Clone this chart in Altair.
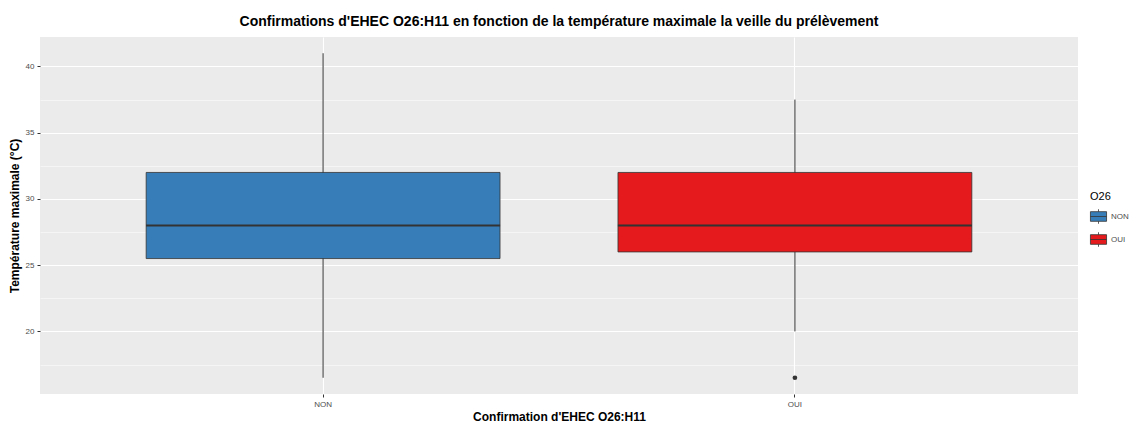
import altair as alt
import pandas as pd

groups = ["NON", "OUI"]
lower = [16.5, 20.0]
q1 = [25.5, 26.0]
median = [28.0, 28.0]
q3 = [32.0, 32.0]
upper = [41.0, 37.5]
out_groups = ["OUI"]
out_values = [16.5]
y_ticks = [17.5, 20, 22.5, 25, 27.5, 30, 32.5, 35, 37.5, 40]
colors = ["#377EB8", "#E41A1C"]

df = pd.DataFrame({"group": groups, "lower": lower, "q1": q1, "median": median,
                   "q3": q3, "upper": upper})
df_out = pd.DataFrame({"group": out_groups, "value": out_values})

lo = min(lower + out_values)
hi = max(upper)
pad = (hi - lo) * 0.05
ydom = [lo - pad, hi + pad]

FONT = "Liberation Sans"

xenc = alt.X("group:N", title="Confirmation d'EHEC O26:H11",
             scale=alt.Scale(paddingInner=0.25, paddingOuter=0.225),
             axis=alt.Axis(labelAngle=0, domain=False, grid=True, gridColor="white",
                           gridWidth=1.1, bandPosition=0.5, tickColor="#333333",
                           tickSize=3, labelColor="#4D4D4D", labelFontSize=8,
                           labelFont=FONT, titleFont=FONT, titleFontSize=12,
                           titleFontWeight="bold", titleColor="black", titlePadding=3,
                           labelPadding=3))
yscale = alt.Scale(domain=ydom, nice=False, zero=False)

def yenc(field):
    return alt.Y(field, type="quantitative", scale=yscale,
                 title="Température maximale (°C)",
                 axis=alt.Axis(values=y_ticks, domain=False, grid=True, gridColor="white",
                               gridWidth={"condition": {"test": "datum.value % 5 === 0", "value": 1.1}, "value": 0.5},
                               tickColor={"condition": {"test": "datum.value % 5 === 0", "value": "#333333"}, "value": "transparent"},
                               labelExpr="datum.value % 5 === 0 ? datum.label : ''",
                               tickSize=3, labelColor="#4D4D4D", labelFontSize=8,
                               labelFont=FONT, titleFont=FONT, titleFontSize=12,
                               titleFontWeight="bold", titleColor="black", titlePadding=4,
                               labelPadding=3))

base = alt.Chart(df)

whiskers = base.mark_rule(color="#333333", strokeWidth=1).encode(
    x=xenc, y=yenc("lower"), y2="upper")

box = base.mark_bar(stroke="#333333", strokeWidth=0.8, opacity=1).encode(
    x=xenc, y=yenc("q1"), y2="q3",
    color=alt.Color("group:N", scale=alt.Scale(domain=groups, range=colors),
                    legend=alt.Legend(title="O26", orient="none", legendX=1050, legendY=154,
                                      titleFont=FONT, titleFontSize=11, titleFontWeight="normal",
                                      labelFont=FONT, labelFontSize=8, labelColor="#4D4D4D",
                                      symbolType="M-1,-0.6H1V0.6H-1ZM-1,0H1M0,-0.6V-0.9M0,0.6V0.9",
                                      symbolSize=260, symbolStrokeColor="#333333",
                                      symbolStrokeWidth=0.8, symbolOpacity=1,
                                      rowPadding=4, titlePadding=6, labelOffset=4)))

med = base.mark_tick(color="#333333", thickness=2, size=354, opacity=1).encode(
    x=xenc, y=yenc("median"))

outl = alt.Chart(df_out).mark_circle(size=22, color="#333333", opacity=1).encode(
    x=xenc, y=yenc("value"))

chart = alt.layer(whiskers, box, med, outl).properties(
    width=1038, height=357,
    title=alt.Title("Confirmations d'EHEC O26:H11 en fonction de la température maximale la veille du prélèvement",
                    font=FONT, fontSize=14, fontWeight="bold", color="black", anchor="middle",
                    offset=8),
    autosize=alt.AutoSizeParams(type="none"),
    padding={"left": 32, "top": 29, "right": 53, "bottom": 28},
).configure_view(fill="#EBEBEB", stroke=None)

chart.save("out.html", embed_options={"renderer": "svg", "actions": False})
